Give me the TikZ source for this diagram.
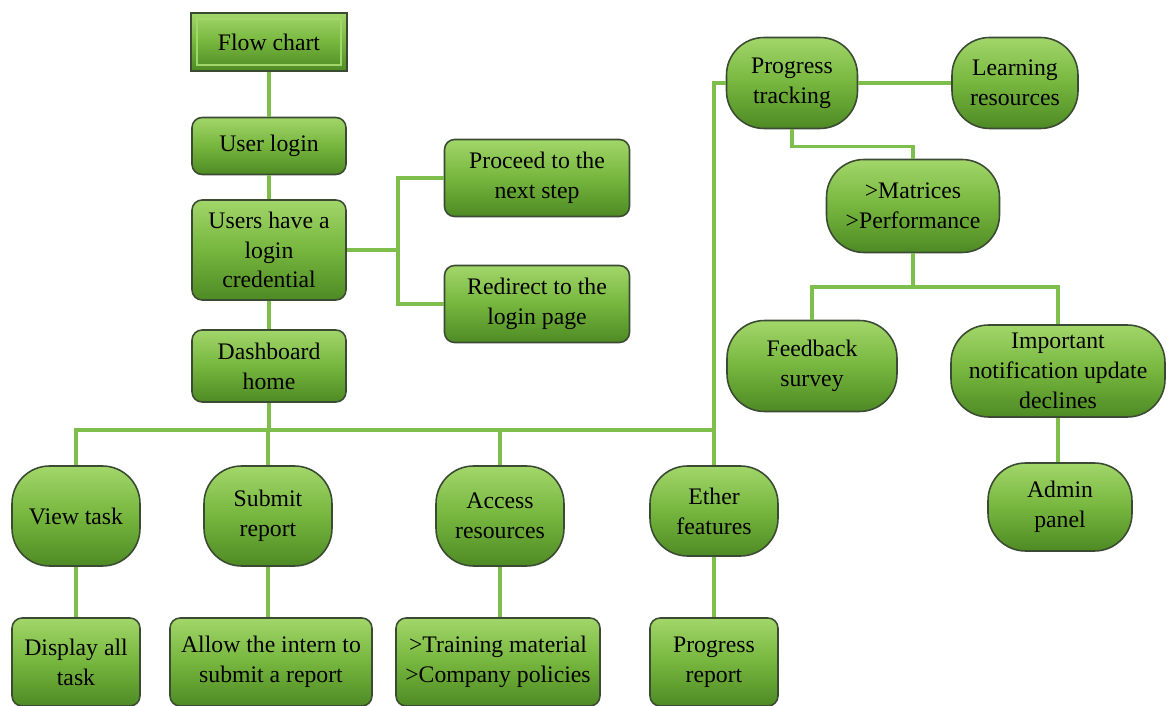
\documentclass[tikz,border=0pt]{standalone}
\usepackage{fontspec}
\setmainfont{Liberation Serif}
\usetikzlibrary{calc}
\definecolor{boxtop}{HTML}{A2D66A}
\definecolor{boxmid}{HTML}{76B63E}
\definecolor{boxbot}{HTML}{4E8A24}
\definecolor{linkgreen}{HTML}{7DBE4C}
\definecolor{boxedge}{HTML}{3B4A32}

\begin{document}
\begin{tikzpicture}[x=0.02cm, y=-0.02cm,
  box/.style={draw=boxedge, line width=0.9pt, top color=boxtop, bottom color=boxbot, middle color=boxmid,
    rounded corners=0.2cm, align=center, inner sep=0pt, font=\fontsize{13.5}{17}\selectfont},
  pill/.style={box, rounded corners=0.75cm},
  link/.style={draw=linkgreen, line width=2pt}]
  \useasboundingbox (0,0) rectangle (1167,706);

  % Left column (login part)
  \node[box, sharp corners, minimum width=3.12cm, minimum height=1.16cm] (flow) at (269,42) {Flow chart};
  \draw[boxtop, line width=1pt] ([shift={(4pt,-4pt)}]flow.north west) rectangle ([shift={(-4pt,4pt)}]flow.south east);
  \node[box, minimum width=3.08cm, minimum height=1.14cm] (login) at (269,146) {User login};
  \node[box, minimum width=3.08cm, minimum height=2.0cm] (cred) at (269,250) {Users have a\\ login\\ credential};
  \node[box, minimum width=3.08cm, minimum height=1.44cm] (dash) at (269,366) {Dashboard\\ home};
  \node[box, minimum width=3.7cm, minimum height=1.54cm] (proceed) at (537,178) {Proceed to the\\ next step};
  \node[box, minimum width=3.7cm, minimum height=1.54cm] (redirect) at (537,304) {Redirect to the\\ login page};

  % Right part (tracking)
  \node[pill, minimum width=2.62cm, minimum height=1.82cm] (track) at (792,83) {Progress\\ tracking};
  \node[pill, minimum width=2.52cm, minimum height=1.82cm] (learn) at (1015,83) {Learning\\ resources};
  \node[pill, minimum width=3.46cm, minimum height=1.86cm] (matr) at (913,206) {>Matrices\\ >Performance};
  \node[pill, minimum width=3.4cm, minimum height=1.82cm] (feed) at (812,366) {Feedback\\ survey};
  \node[pill, minimum width=4.28cm, minimum height=1.84cm] (notif) at (1058,371) {Important\\ notification update\\ declines};
  \node[pill, minimum width=2.88cm, minimum height=1.76cm] (admin) at (1060,507) {Admin\\ panel};

  % Bottom row
  \node[pill, minimum width=2.56cm, minimum height=2.0cm] (view) at (76,516) {View task};
  \node[pill, minimum width=2.56cm, minimum height=2.0cm] (submit) at (268,516) {Submit\\ report};
  \node[pill, minimum width=2.56cm, minimum height=2.0cm] (access) at (500,516) {Access\\ resources};
  \node[pill, minimum width=2.56cm, minimum height=1.8cm] (ether) at (714,511) {Ether\\ features};
  \node[box, minimum width=2.56cm, minimum height=1.76cm] (display) at (76,662) {Display all\\ task};
  \node[box, minimum width=4.04cm, minimum height=1.76cm] (allow) at (271,662) {Allow the intern to\\ submit a report};
  \node[box, minimum width=4.08cm, minimum height=1.76cm] (train) at (498,662) {>Training material\\ >Company policies};
  \node[box, minimum width=2.56cm, minimum height=1.76cm] (report) at (714,662) {Progress\\ report};

  % Connectors
  \coordinate (split) at (398,250);
  \coordinate (bus) at (269,430);
  \coordinate (fork) at (913,287);
  \draw[link] (flow) -- (login);
  \draw[link] (login) -- (cred);
  \draw[link] (cred) -- (dash);
  \draw[link] (cred.east) -- (split);
  \draw[link] (proceed.west) -- (proceed.west -| split) -- (redirect.west -| split) -- (redirect.west);
  \draw[link] (dash.south) -- (bus);
  \draw[link] (view.north) -- (view.north |- bus) -- (bus -| ether.north);
  \draw[link] (submit.north) -- (submit.north |- bus);
  \draw[link] (access.north) -- (access.north |- bus);
  \draw[link] (ether.north) |- (track.west);
  \draw[link] (view) -- (display);
  \draw[link] (submit.south) -- (submit.south |- allow.north);
  \draw[link] (access.south) -- (access.south |- train.north);
  \draw[link] (ether) -- (report);
  \draw[link] (track) -- (learn);
  \draw[link] (track.south) -- ++(0,17) -| (matr.north);
  \draw[link] (matr.south) -- (fork);
  \draw[link] (feed.north) -- (feed.north |- fork) -- (fork -| notif.north) -- (notif.north);
  \draw[link] (notif.south) -- (notif.south |- admin.north);
\end{tikzpicture}
\end{document}
